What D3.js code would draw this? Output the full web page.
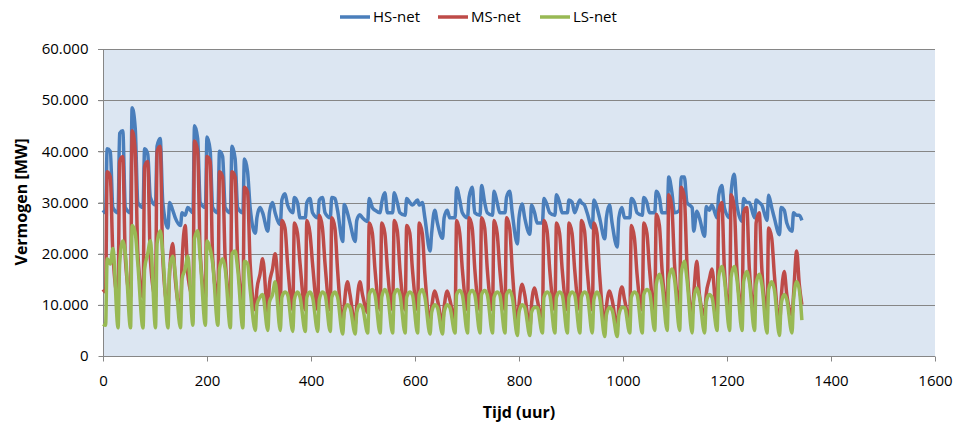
<!DOCTYPE html>
<html>
<head>
<meta charset="utf-8">
<script src="https://cdn.jsdelivr.net/npm/d3@7"></script>
<style>
  html, body { margin: 0; padding: 0; background: #fff; }
  svg text { font-family: "Liberation Sans Narrow", "Arial Narrow", "Open Sans", sans-serif; fill: #000; }
</style>
</head>
<body>
<svg id="chart" width="960" height="427"></svg>
<script>
// ---- DATA (values in 1000 MW; one row per day, samples at the hours in sampleHours) ----
const seriesNames = ["HS-net", "MS-net", "LS-net"];
const sampleHours = [5, 8, 14, 19];
const startValues = { "HS-net": 28.5, "MS-net": 13, "LS-net": 6.2 };
const endHour = 1344;
const endValues = { "HS-net": 26.5, "MS-net": 10, "LS-net": 7 };

const hsNet = [
  [28,40.5,40,29],[28,43.5,44,29],[28,48.5,44.5,30],[29,40.5,39.5,31],[29.5,41,42.5,30],[25,30,28.5,27],[25.5,28,27.5,29],
  [28,45,42.5,30],[29,42.8,40.2,29],[28,40,39,29],[28,41,38.6,29],[28,38.5,36,29],[24,27,29,28],[24.4,28,30,28],
  [25.7,30.5,31.7,29.5],[28,31,30,27],[27,30,30.8,28],[27,30.5,31,28],[27,31,30.8,28.5],[22.4,29.6,28,26],[22.4,26.5,27.6,27],
  [26.3,30.8,29,28.5],[28,30,31.9,28],[28,31.9,30,28],[27.5,30.8,30,29.5],[30.5,29.5,30,27],[20.5,24,28.5,26],[23,27,28.5,27],
  [27,32.9,30.5,28],[27,31,33,28],[27.5,33.3,30,28],[27.5,32.2,30,28],[28,31,32.2,28],[21.9,27,29.7,27],[23.8,29.5,28,26],
  [26,30.8,29.5,28],[27.5,31.5,30,28],[28,30.5,30.1,28],[30.5,30,29.5,28],[25,30.5,29,27],[22.9,27,29.5,26],[21.3,27,29,27],
  [27,30.8,30,28],[27.5,31,30,28],[28,32.2,31,28],[28,35,32,28],[28.5,35,35,30],[29,24.4,28.3,27],[23.4,29.2,28.5,29.5],
  [27,31.4,33.3,29],[27,32,35.5,29.5],[26.3,30.8,30,30],[27,30.5,30,29.5],[26.5,31.4,29,27],[23.7,29,28.5,26],[24.4,28,27.5,27.5]
];
const msNet = [
  [12.5,36,35,20],[11.5,38,39,19],[11.5,44,40,20],[11.5,37,38,19],[11.5,40,41,19],[9.5,16,22,15],[9,18,25.5,16],
  [11.5,42,40,20],[11.5,39,38,19],[11,36,35,19],[11,36,35,19],[11,33,32,18],[9,13,16,19],[8.5,14,17,20],
  [9,26.5,25,18],[9,26,24,18],[9,26.5,24,18],[9,27.5,25,18],[9,27,25,17],[6,10,14.5,12],[6,10,14.5,12],
  [8.5,26,24,17],[9,26,24,17],[9,26.5,24.5,17],[9,25.5,24,17],[9,26,24,16],[7,9.5,12.7,11],[6.5,9.5,12.7,11],
  [7,26.5,24,17],[9,27,25,17],[9,27,25,17],[9,26.5,24,17],[9,27,25,17],[6,10,14,12],[5.5,10,13.3,11],
  [7,26.5,24.5,17],[9,26,24,17],[9,26,24,17],[9,26.5,24.5,17],[9,26,24,16],[6,9.5,12.7,11],[5.5,10,13.5,11],
  [7,25.5,23,16],[9,26,24,17],[9,27.7,25.5,17],[9.5,31.5,29,18],[9.5,33,31,18],[8,12,18.5,12],[8,12,15,17],
  [7.5,28,30,17],[9,31.5,29,17],[9,28,29,17],[9,26,28,17],[8.5,25,23,16],[6,11,16.5,12],[8,12,20.5,14]
];
const lsNet = [
  [6,19,18,21],[5.5,18,22.5,20],[5.5,25.5,24,18],[5.5,17,20,22.5],[5.5,22,24.5,20],[5.5,17,19.5,16],[5.5,15,17,19.5],
  [6,23,24.5,19],[6,22.5,21,18],[6,17,19,17],[5.5,20,20.5,17],[5.5,18.5,18,13],[5,10,11.5,12],[5,10.5,12,14.5],
  [5,11.5,12.5,12],[4.8,11,12.5,11.5],[4.8,11.5,12.5,11.5],[4.8,11,12.5,12],[4.8,11.5,12.5,11.5],[4.3,8.5,10,9.5],[4.3,8.5,10,9.5],
  [4.5,12,13,12],[4.5,11.5,13,12],[4.5,12,13,12],[4.5,11.5,12.5,12],[4.5,12,13,11.5],[4.3,8.5,10,9.5],[4.3,8.5,10,9.5],
  [4.5,12,12.8,12],[4.5,12,12.8,12],[4.5,12,12.8,12],[4.5,11.5,12.5,12],[4.5,12,12.8,11.5],[4,8.5,10,9.5],[4,8.5,9.5,9.5],
  [4.5,11.5,12.5,12],[4.5,11.5,12.5,12],[4.5,11.5,12.5,12],[4.5,11.5,12.5,12],[4.5,11,12.5,11.5],[3.8,8,9.5,9],[3.8,8,9.5,9.5],
  [4.5,11.5,12.5,12],[4.5,12,13,12.5],[5,14,16,14],[5,15,17,15],[5,16,18.5,15],[4.5,11,13.3,11.5],[4.5,10.5,12,11.5],
  [5,15.5,17.5,15],[5,15.5,17.5,15],[5,14.5,16.5,14.5],[5,14,16,14],[4.5,13,14.5,13],[4,10,12,11],[4.5,11,14.5,13]
];
const xTicks = [0, 200, 400, 600, 800, 1000, 1200, 1400, 1600];
const yTicks = [0, 10, 20, 30, 40, 50, 60];
const colors = { "HS-net": "#4A7EBB", "MS-net": "#BE4B48", "LS-net": "#98B954" };

// ---- BUILD ----
function toPoints(name, rows) {
  const pts = [{ h: 0, v: startValues[name] }];
  rows.forEach((row, day) => row.forEach((v, i) => pts.push({ h: day * 24 + sampleHours[i], v })));
  pts.push({ h: endHour, v: endValues[name] });
  return pts;
}
const series = [
  { name: "HS-net", pts: toPoints("HS-net", hsNet) },
  { name: "MS-net", pts: toPoints("MS-net", msNet) },
  { name: "LS-net", pts: toPoints("LS-net", lsNet) }
];

const svg = d3.select("#chart");
const X0 = 103, X1 = 935, Y0 = 49, Y1 = 356;
const x = d3.scaleLinear().domain([0, 1600]).range([X0, X1]);
const y = d3.scaleLinear().domain([0, 60]).range([Y1, Y0]);
const nl = d3.formatLocale({ decimal: ",", thousands: ".", grouping: [3], currency: ["€", ""] });
const fmt = v => nl.format(",")(v * 1000);

svg.append("rect").attr("width", 960).attr("height", 427).attr("fill", "#fff");
svg.append("rect").attr("x", X0).attr("y", Y0).attr("width", X1 - X0).attr("height", Y1 - Y0).attr("fill", "#DCE6F2");

// gridlines
svg.append("g").selectAll("line").data(yTicks.filter(d => d > 0)).join("line")
  .attr("x1", X0 - 5).attr("x2", X1).attr("y1", d => Math.round(y(d)) + 0.5).attr("y2", d => Math.round(y(d)) + 0.5)
  .attr("stroke", "#868686").attr("stroke-width", 1);

// axes
const yAxis = svg.append("g").attr("transform", `translate(${X0 + 0.5},0)`)
  .call(d3.axisLeft(y).tickValues(yTicks).tickFormat(fmt).tickSize(5).tickPadding(10));
const xAxis = svg.append("g").attr("transform", `translate(0,${Math.round(Y1) + 0.5})`)
  .call(d3.axisBottom(x).tickValues(xTicks).tickFormat(d3.format("d")).tickSize(5).tickPadding(14));
[yAxis, xAxis].forEach(a => {
  a.selectAll("path, line").attr("stroke", "#868686");
  a.selectAll("text").attr("font-size", 15).attr("fill", "#000");
  a.select(".domain").attr("d", null);
});
svg.append("line").attr("x1", X0 + 0.5).attr("x2", X0 + 0.5).attr("y1", Y0).attr("y2", Y1).attr("stroke", "#868686");
svg.append("line").attr("x1", X0).attr("x2", X1).attr("y1", Y1 + 0.5).attr("y2", Y1 + 0.5).attr("stroke", "#868686");

// lines
const line = d3.line().x(d => x(d.h)).y(d => y(d.v)).curve(d3.curveMonotoneX);
svg.append("g").selectAll("path").data(series).join("path")
  .attr("d", d => line(d.pts)).attr("fill", "none")
  .attr("stroke", d => colors[d.name]).attr("stroke-width", 3.5).attr("stroke-linejoin", "round");

// axis titles
svg.append("text").attr("x", 519).attr("y", 418).attr("text-anchor", "middle")
  .attr("font-size", 16).attr("font-weight", "bold").text("Tijd (uur)");
svg.append("text").attr("transform", "translate(27,202) rotate(-90)").attr("text-anchor", "middle")
  .attr("font-size", 16).attr("font-weight", "bold").text("Vermogen [MW]");

// legend
const legendX = [340, 438, 540];
const lg = svg.append("g").selectAll("g").data(seriesNames).join("g")
  .attr("transform", (d, i) => `translate(${legendX[i]},17)`);
lg.append("line").attr("x1", 0).attr("x2", 30).attr("stroke", d => colors[d]).attr("stroke-width", 3.5);
lg.append("text").attr("x", 33).attr("y", 5).attr("font-size", 15).text(d => d);
</script>
</body>
</html>
